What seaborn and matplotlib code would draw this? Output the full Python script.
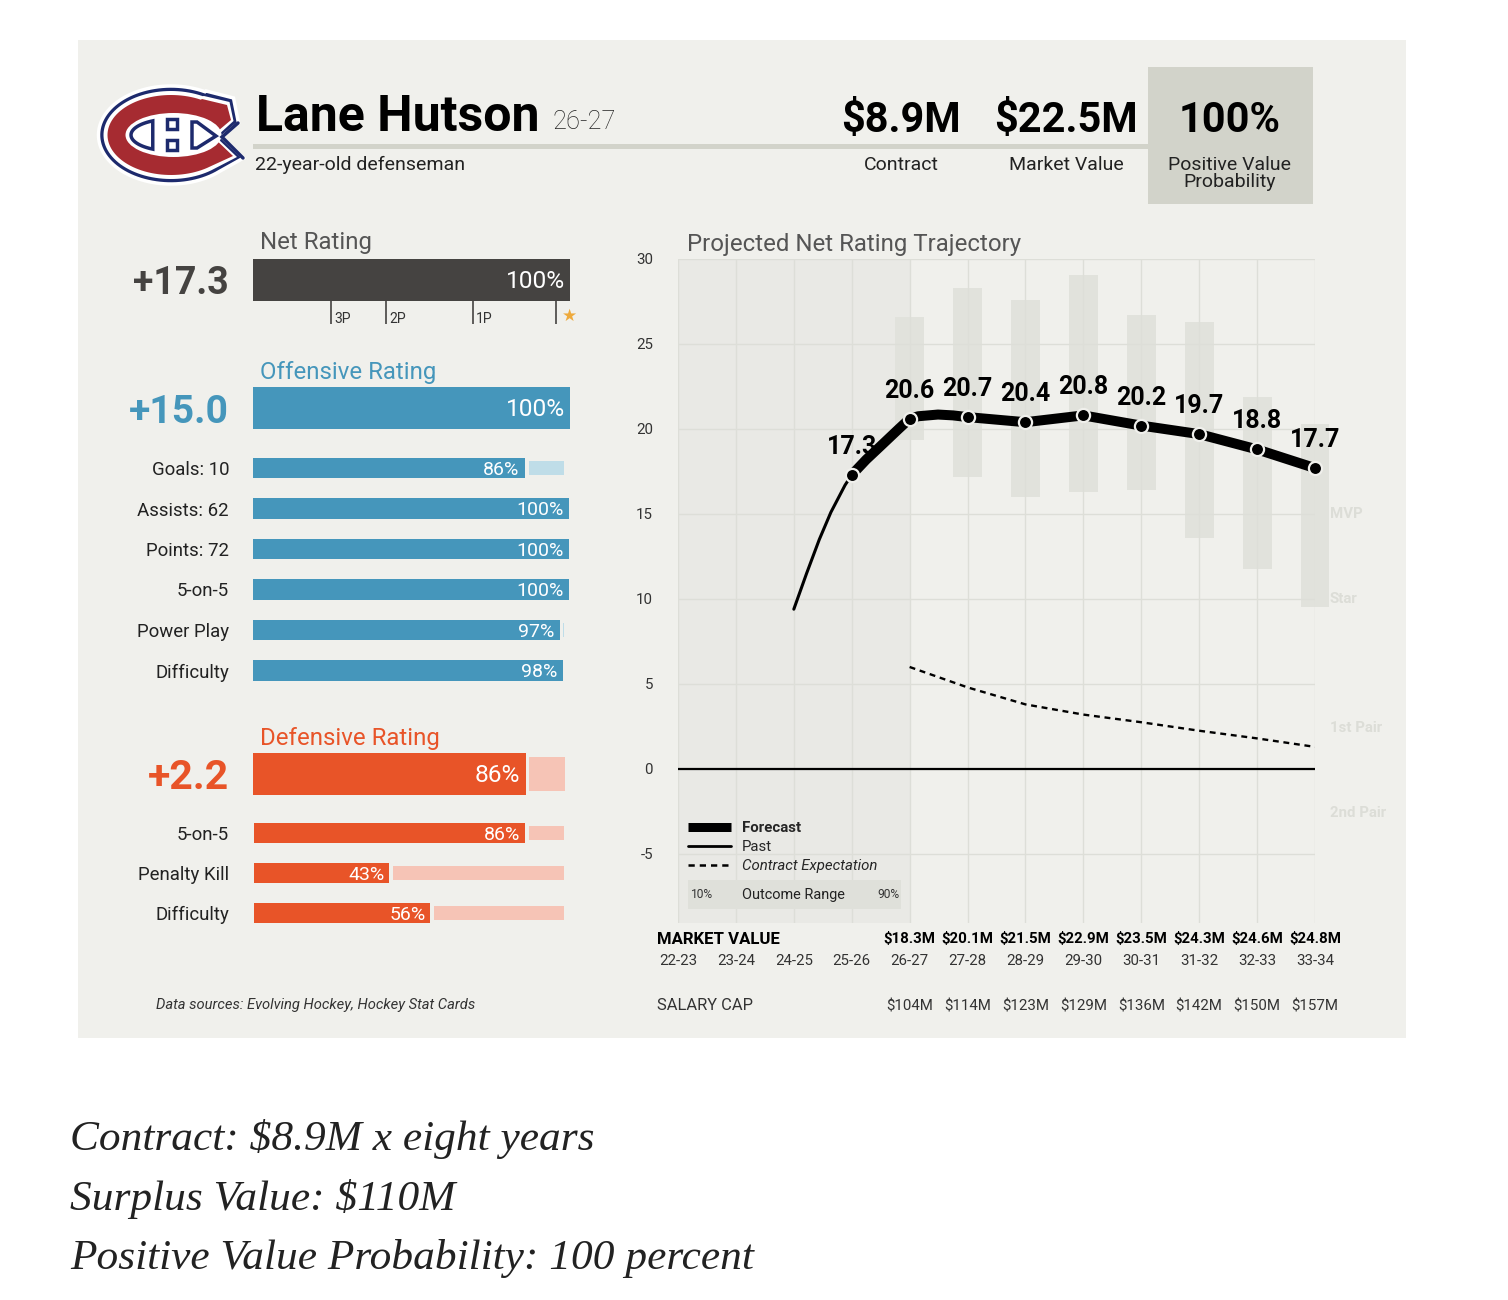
import numpy as np
import matplotlib
matplotlib.use("Agg")
import matplotlib.pyplot as plt
from matplotlib.lines import Line2D
from matplotlib.patches import Ellipse, Polygon, Rectangle
import seaborn as sns

W, H = 1508, 1300

# chart values
net_value = ["+17.3"]
net_pct = [100]
net_marks = [24.6, 42, 69.4, 95.6]
net_mark_labels = ["3P", "2P", "1P"]

off_value = ["+15.0"]
off_pct = [100]
off_labels = ["Goals: 10", "Assists: 62", "Points: 72", "5-on-5", "Power Play", "Difficulty"]
off_vals = [86, 100, 100, 100, 97, 98]

def_value = ["+2.2"]
def_pct = [86]
def_labels = ["5-on-5", "Penalty Kill", "Difficulty"]
def_vals = [86, 43, 56]

seasons = ["22-23", "23-24", "24-25", "25-26", "26-27", "27-28", "28-29", "29-30", "30-31", "31-32", "32-33", "33-34"]
past_x = [2, 2.22, 2.44, 2.64, 2.885, 3]
past_y = [9.4, 11.5, 13.5, 15.1, 16.7, 17.3]
fore_x = [3, 3.25, 3.5, 3.81, 4, 4.15, 4.49, 4.75, 5, 6, 7, 8, 9, 10, 11]
fore_y = [17.3, 18.2, 19.0, 20.0, 20.6, 20.75, 20.85, 20.8, 20.7, 20.4, 20.8, 20.2, 19.7, 18.8, 17.7]
point_x = [3, 4, 5, 6, 7, 8, 9, 10, 11]
point_y = [17.3, 20.6, 20.7, 20.4, 20.8, 20.2, 19.7, 18.8, 17.7]
contract_x = [4, 5, 6, 7, 8, 9, 10, 11]
contract_y = [6.0, 4.8, 3.8, 3.2, 2.75, 2.25, 1.8, 1.3]
range_x = [4, 5, 6, 7, 8, 9, 10, 11]
range_lo = [19.35, 17.2, 16.0, 16.3, 16.4, 13.6, 11.75, 9.5]
range_hi = [26.6, 28.3, 27.6, 29.05, 26.7, 26.3, 21.9, 20.3]
tier_labels = ["MVP", "Star", "1st Pair", "2nd Pair"]
tier_y = [15, 10, 2.4, -2.6]
market = ["$18.3M", "$20.1M", "$21.5M", "$22.9M", "$23.5M", "$24.3M", "$24.6M", "$24.8M"]
cap = ["$104M", "$114M", "$123M", "$129M", "$136M", "$142M", "$150M", "$157M"]

PANEL = "#f0f0ec"
BOX = "#d2d3ca"
BLUE = "#4596bb"
BLUE_LT = "#bfdde8"
ORANGE = "#e85428"
ORANGE_LT = "#f6c4b6"
DARK = "#454341"
GRID = "#dddeD8"

sns.set_theme(style="white")
plt.rcParams["font.family"] = ["Roboto", "DejaVu Sans"]
plt.rcParams["axes.facecolor"] = "none"

fig = plt.figure(figsize=(W / 100, H / 100), dpi=100, facecolor="white")


def px_axes(x0, y0, x1, y1):
    return fig.add_axes([x0 / W, 1 - y1 / H, (x1 - x0) / W, (y1 - y0) / H])


def pt(px):
    return px * 0.72


# page level layer in pixel coordinates
page = fig.add_axes([0, 0, 1, 1])
page.set_xlim(0, W)
page.set_ylim(H, 0)
page.axis("off")
page.add_patch(Rectangle((78, 40), 1328, 998, color=PANEL, lw=0))
page.add_patch(Rectangle((1148, 67), 165, 137, color=BOX, lw=0))
page.add_patch(Rectangle((253, 144), 895, 5, color=BOX, lw=0))


def c_poly(cx, cy, rx, ry, t0, t1, extra):
    t = np.radians(np.linspace(t0, t1, 80))
    arc = np.column_stack([cx + rx * np.cos(t), cy - ry * np.sin(t)])
    return np.vstack([arc, extra])


# club logo
NAVY = "#1d2a6d"
RED = "#a62b31"
outer = c_poly(171, 135, 72.5, 49, 62, 312, [[243.5, 158], [222, 137], [238.5, 123], [233.5, 98], [206, 91]])
page.add_patch(Polygon(outer, fc=NAVY, ec="white", lw=2.5, joinstyle="miter"))
mid = c_poly(171, 135, 67.5, 44, 62, 310, [[237, 157], [216, 137], [233.5, 121], [229.5, 102], [204, 96]])
page.add_patch(Polygon(mid, fc="white", lw=0))
red = c_poly(171, 135, 63.5, 40, 62, 308, [[233, 156], [212, 136], [231, 120], [227, 105], [202, 99]])
page.add_patch(Polygon(red, fc=RED, lw=0))
page.add_patch(Ellipse((173.5, 135), 96, 44, fc="white", lw=0))
page.plot([238, 222, 243], [123, 137, 158], color=NAVY, lw=2.5, solid_joinstyle="miter")
t = np.radians(np.linspace(0, 360, 120))
ex, ey = 172 + 41 * np.cos(t), 135 + 16 * np.sin(t)
page.add_patch(Polygon(np.column_stack([ex, ey])[ex < 153], fc="white", ec=NAVY, lw=2.5))
page.add_patch(Polygon([[192, 122], [197, 122], [216, 136], [197, 148], [192, 148]], fc="white", ec=NAVY, lw=2.5))
for sq_y in [119, 140]:
    page.add_patch(Rectangle((167, sq_y), 9.5, 10, fc="white", ec=NAVY, lw=2.5))

# header
page.text(256, 131, "Lane Hutson", fontsize=pt(50), fontweight="bold", color="black", va="baseline")
page.text(552, 122, "26-27", fontsize=pt(25.5), fontweight="light", color="#222222", va="center")
page.text(255, 165, "22-year-old defenseman", fontsize=pt(19.5), color="#222222", va="center")
for cx, big, small in [(901, "$8.9M", "Contract"), (1066, "$22.5M", "Market Value"), (1230, "100%", "Positive Value\nProbability")]:
    page.text(cx, 120, big, fontsize=pt(41.5), fontweight="bold", color="black", ha="center", va="center")
    page.text(cx, 156, small, fontsize=pt(19.5), color="#222222", ha="center", va="top", linespacing=0.95)

# section titles
page.text(260, 243, "Net Rating", fontsize=pt(24), color="#555555", va="center")
page.text(260, 372, "Offensive Rating", fontsize=pt(24), color=BLUE, va="center")
page.text(260, 738, "Defensive Rating", fontsize=pt(24), color=ORANGE, va="center")
page.text(687, 244, "Projected Net Rating Trajectory", fontsize=pt(24), color="#555555", va="center")
page.text(156, 1005, "Data sources: Evolving Hockey, Hockey Stat Cards", fontsize=pt(14.8), style="italic", color="#333333", va="center")
page.text(657, 939, "MARKET VALUE", fontsize=pt(16.7), fontweight="bold", color="black", va="center")
page.text(657, 1006, "SALARY CAP", fontsize=pt(16.5), color="#333333", va="center")

for y, line in zip([1139, 1199, 1259], ["Contract: $8.9M x eight years", "Surplus Value: $110M", "Positive Value Probability: 100 percent"]):
    page.text(70, y, line, family="Liberation Serif", style="italic", fontsize=pt(43.4), color="#222222", va="center")


def bar_group(box, labels, vals, color, light, width, label_px, tick_px, tick_weight="normal", tick_color="#222222"):
    ax = px_axes(*box)
    sns.barplot(x=vals, y=labels, color=color, width=width, saturation=1, linewidth=0, ax=ax)
    ax.set_xlim(0, 100)
    ax.set_ylim(len(labels) - 0.5, -0.5)
    ax.set_xticks([])
    ax.set_xlabel("")
    ax.set_ylabel("")
    ax.tick_params(axis="y", length=0, pad=pt(box[0] - 229), labelsize=pt(tick_px), labelcolor=tick_color)
    for lab in ax.get_yticklabels():
        lab.set_fontweight(tick_weight)
    sns.despine(ax=ax, left=True, bottom=True)
    for i, v in enumerate(vals):
        ax.text(v - 1.6, i + 0.04, f"{v}%", color="white", fontsize=pt(label_px), ha="right", va="center")
        if light is not None and v + 1.2 < 98.4:
            ax.barh(i, 98.4 - v - 1.2, left=v + 1.2, height=width * 0.8 if width == 1 else width * 0.7, color=light, lw=0)
    return ax


net_ax = bar_group((253, 259, 570, 301), net_value, net_pct, DARK, None, 1, 24.5, 37.5, "bold", DARK)
net_ax.vlines(net_marks, 0.5, 1.05, color=DARK, lw=1.2, clip_on=False)
for m, lab in zip(net_marks, net_mark_labels):
    net_ax.text(m + 1, 0.93, lab, fontsize=pt(14), color="#333333", va="center")
net_ax.text(99.7, 0.85, "★", color="#eeaa3c", fontsize=pt(17), ha="center", va="center", family="DejaVu Sans")

bar_group((253, 387, 570, 429), off_value, off_pct, BLUE, None, 1, 24.5, 39, "bold", BLUE)
bar_group((253, 447.75, 569, 690.75), off_labels, off_vals, BLUE, BLUE_LT, 0.5, 19.5, 18.6)
bar_group((253, 753, 570, 795), def_value, def_pct, ORANGE, ORANGE_LT, 1, 24.5, 41, "bold", ORANGE)
bar_group((254, 813, 569, 933), def_labels, def_vals, ORANGE, ORANGE_LT, 0.5, 19.5, 18.6)

# trajectory chart
ax = px_axes(678, 259, 1315, 923)
ax.set_xlim(0, 11)
ax.set_ylim(-9.06, 30)
ax.axvspan(0, 4, color="#e9e9e5", lw=0, zorder=0)
sns.barplot(x=range_x, y=np.array(range_hi) - np.array(range_lo), bottom=range_lo, native_scale=True,
            width=0.5, color="#e1e2dc", saturation=1, linewidth=0, ax=ax, zorder=1, clip_on=False)
ax.set_xlim(0, 11)
ax.set_ylim(-9.06, 30)
for i in range(12):
    ax.axvline(i, color=GRID, lw=1, zorder=2)
for v in range(-5, 31, 5):
    ax.axhline(v, color=GRID, lw=1, zorder=2)
ax.axhline(0, color="black", lw=1.6, zorder=3)

sns.lineplot(x=past_x, y=past_y, color="black", lw=2.2, ax=ax, zorder=4)
sns.lineplot(x=fore_x, y=fore_y, color="black", lw=pt(10), ax=ax, zorder=5)
sns.lineplot(x=contract_x, y=contract_y, color="black", lw=1.7, ax=ax, zorder=4, linestyle=(0, (2.5, 2)))
sns.scatterplot(x=point_x, y=point_y, color="black", s=90, edgecolor=PANEL, linewidth=1.6, ax=ax, zorder=6, clip_on=False)
for x, y in zip(point_x, point_y):
    ax.annotate(f"{y:.1f}", (x, y), xytext=(0, pt(28)), textcoords="offset points", fontsize=pt(25),
                fontweight="bold", ha="center", va="center", color="black", zorder=4)

ax.set_xticks(range(12))
ax.set_xticklabels(seasons)
ax.set_yticks(range(-5, 31, 5))
ax.set_yticklabels([str(v) for v in range(-5, 31, 5)])
ax.tick_params(axis="x", length=0, pad=pt(31), labelsize=pt(15), labelcolor="#333333")
ax.tick_params(axis="y", length=0, pad=pt(25), labelsize=pt(15), labelcolor="#333333")
ax.set_xlabel("")
ax.set_ylabel("")
sns.despine(ax=ax, left=True, bottom=True)

xform = ax.get_xaxis_transform()
for i, (m, c) in enumerate(zip(market, cap)):
    ax.annotate(m, (i + 4, 0), xycoords=xform, xytext=(0, -pt(16)), textcoords="offset points",
                fontsize=pt(15), fontweight="bold", ha="center", va="center", color="black", annotation_clip=False)
    ax.annotate(c, (i + 4, 0), xycoords=xform, xytext=(0, -pt(83)), textcoords="offset points",
                fontsize=pt(15), ha="center", va="center", color="#333333", annotation_clip=False)
for lab, y in zip(tier_labels, tier_y):
    ax.annotate(lab, (11, y), xytext=(pt(15), 0), textcoords="offset points", fontsize=pt(15),
                fontweight="bold", color="#dcddd7", va="center", annotation_clip=False)

# legend
handles = [Line2D([], [], color="black", lw=pt(9), solid_capstyle="butt"),
           Line2D([], [], color="black", lw=2),
           Line2D([], [], color="black", lw=1.8, linestyle=(0, (2.5, 2)))]
leg = ax.legend(handles, ["Forecast", "Past", "Contract Expectation"], loc="lower left",
                bbox_to_anchor=((688 - 678) / 637, (923 - 873) / 664), borderaxespad=0, borderpad=0,
                frameon=False, fontsize=pt(15), handlelength=2.85, handletextpad=0.75, labelspacing=0.32)
leg.get_texts()[0].set_fontweight("bold")
leg.get_texts()[2].set_fontstyle("italic")
leg.set_zorder(7)
ax.add_patch(Rectangle((0.173, -8.24), 3.68, 1.71, color="#dfe0da", lw=0, zorder=3))
ax.text(0.23, -7.4, "10%", fontsize=pt(12), color="#333333", va="center", zorder=8)
ax.text(1.1, -7.4, "Outcome Range", fontsize=pt(14.5), color="#222222", va="center", zorder=8)
ax.text(3.82, -7.4, "90%", fontsize=pt(12), color="#333333", va="center", ha="right", zorder=8)

fig.savefig("out.png", dpi=100, facecolor="white")
